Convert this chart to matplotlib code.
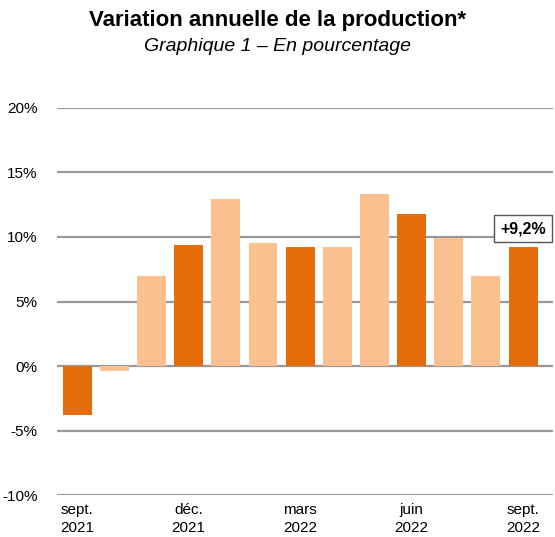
import numpy as np
import matplotlib.pyplot as plt

plt.rcParams['font.family'] = ['Liberation Sans', 'DejaVu Sans']

# monthly values, sept 2021 -> sept 2022
months = ["sept. 2021", "oct. 2021", "nov. 2021", "déc. 2021", "janv. 2022",
          "févr. 2022", "mars 2022", "avr. 2022", "mai 2022", "juin 2022",
          "juil. 2022", "août 2022", "sept. 2022"]
values = [-3.8, -0.4, 7.0, 9.4, 12.95, 9.5, 9.2, 9.2, 13.3, 11.8, 9.9, 7.0, 9.2]
quarter_end = [True, False, False, True, False, False, True, False, False, True, False, False, True]
tick_pos = [0, 3, 6, 9, 12]
tick_labels = ["sept.\n2021", "déc.\n2021", "mars\n2022", "juin\n2022", "sept.\n2022"]
yticks = [-10, -5, 0, 5, 10, 15, 20]

dark = "#E46C0A"
light = "#FAC090"
colors = [dark if q else light for q in quarter_end]

fig = plt.figure(figsize=(5.55, 5.37), dpi=100)
ax = fig.add_axes([0.103, 0.078, 0.893, 0.721])

x = np.arange(len(values))
ax.bar(x, values, width=0.78, color=colors, zorder=3)

ax.set_ylim(-10, 20)
ax.set_xlim(-0.54, 12.8)
ax.set_yticks(yticks)
ax.set_yticklabels([f"{v}%" for v in yticks])
ax.set_xticks(tick_pos)
ax.set_xticklabels(tick_labels, linespacing=1.35)
ax.tick_params(axis='both', length=0, labelsize=11)
ax.tick_params(axis='y', pad=14)
ax.tick_params(axis='x', pad=6)
ax.yaxis.grid(True, color="#999999", linewidth=1.6, zorder=0)
for s in ax.spines.values():
    s.set_visible(False)

ax.annotate("+9,2%", xy=(x[-1], values[-1]), xytext=(0, 13.5), textcoords="offset points",
            ha="center", va="center", fontsize=11.5, fontweight="bold",
            bbox=dict(boxstyle="square,pad=0.4", fc="white", ec="#555555", lw=1), zorder=5)

fig.text(0.5, 0.961, "Variation annuelle de la production*", ha="center", va="center",
         fontsize=16, fontweight="bold")
fig.text(0.5, 0.914, "Graphique 1 – En pourcentage", ha="center", va="center",
         fontsize=14, style="italic")

fig.savefig("out.png", dpi=100)
